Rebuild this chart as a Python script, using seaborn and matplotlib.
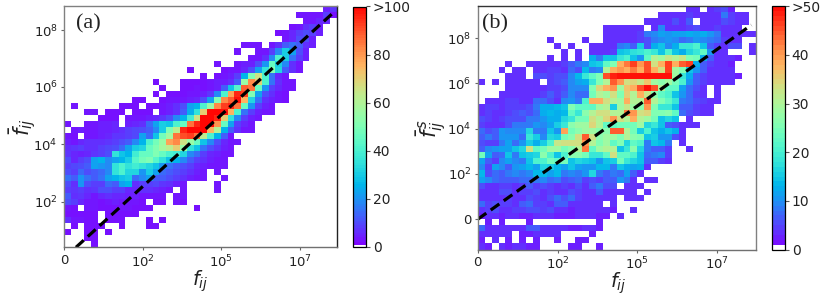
import pandas as pd
import seaborn as sns
import matplotlib.pyplot as plt
from matplotlib.colors import ListedColormap

# Counts, one list per row from the top, short rows end in blanks
counts_a = [
    [0]*38 + [4, 7],
    [0]*34 + [3, 3, 3, 3, 8, 2],
    [0]*35 + [3, 3, 5, 5],
    [0]*33 + [2, 3, 6, 8, 4],
    [0]*31 + [2, 3, 5, 8, 10, 8, 4],
    [0]*32 + [3, 5, 10, 10, 4],
    [0]*26 + [3, 3, 3, 0, 3, 6, 12, 15, 12, 6, 4],
    [0]*25 + [3, 0, 0, 3, 3, 8, 18, 30, 22, 10, 4],
    [0]*27 + [3, 3, 6, 18, 40, 30, 15, 8, 4],
    [0]*22 + [3, 0, 0, 3, 4, 4, 10, 20, 45, 30, 18, 6, 3],
    [0]*18 + [2, 0, 0, 0, 0, 2, 3, 3, 5, 10, 22, 35, 50, 32, 12, 6, 3],
    [0]*20 + [2, 0, 2, 3, 4, 8, 25, 50, 65, 40, 15, 5, 3],
    [0]*13 + [2, 0, 0, 0, 2, 2, 2, 2, 3, 4, 4, 6, 12, 55, 82, 70, 40, 15, 6, 3, 3],
    [0]*14 + [2, 0, 0, 2, 2, 3, 2, 3, 4, 12, 28, 42, 88, 85, 45, 20, 8, 5, 3, 3],
    [0]*13 + [2, 0, 2, 2, 2, 3, 3, 4, 7, 18, 40, 78, 95, 92, 50, 22, 10, 6, 3, 2],
    [0]*10 + [2, 2, 0, 0, 2, 3, 3, 3, 4, 5, 10, 22, 50, 82, 88, 98, 75, 32, 15, 6, 4, 3, 2],
    [0, 3, 0, 0, 0, 0, 0, 0, 2, 2, 2, 0, 2, 2, 3, 4, 6, 10, 22, 25, 40, 55, 82, 92, 95, 85, 45, 20, 8, 4, 3],
    [0, 0, 0, 3, 3, 0, 2, 2, 2, 0, 2, 2, 2, 0, 3, 4, 6, 12, 24, 35, 70, 100, 100, 98, 75, 40, 15, 8, 4, 3, 3],
    [0]*5 + [2, 2, 2, 0, 3, 3, 3, 4, 5, 7, 10, 18, 25, 38, 65, 100, 100, 95, 70, 35, 18, 8, 4, 3],
    [3, 0, 0, 3, 3, 4, 4, 5, 0, 4, 5, 6, 14, 22, 30, 28, 40, 45, 85, 95, 100, 100, 80, 45, 22, 8, 5, 3],
    [0, 3, 4, 3, 3, 4, 4, 5, 6, 8, 9, 10, 12, 18, 30, 50, 62, 95, 100, 100, 100, 75, 60, 25, 12, 6, 3, 3],
    [3, 2, 0, 3, 3, 4, 5, 7, 7, 8, 9, 22, 14, 28, 48, 58, 85, 90, 92, 85, 62, 40, 25, 12, 3],
    [4, 3, 5, 6, 6, 6, 7, 8, 10, 12, 18, 25, 40, 48, 55, 78, 82, 65, 55, 45, 28, 18, 10, 5, 3, 3],
    [6, 7, 8, 6, 6, 8, 9, 10, 14, 22, 30, 32, 45, 50, 58, 62, 70, 55, 35, 28, 15, 10, 7, 4, 3],
    [7, 5, 4, 5, 7, 8, 10, 35, 28, 25, 38, 45, 45, 50, 45, 40, 38, 32, 18, 14, 8, 5, 4, 3, 3],
    [10, 5, 8, 10, 22, 25, 18, 22, 25, 30, 42, 48, 50, 42, 35, 28, 25, 18, 12, 8, 6, 4, 3, 3],
    [8, 9, 10, 12, 22, 20, 18, 35, 40, 35, 38, 35, 32, 28, 20, 15, 12, 10, 8, 5, 4, 3, 3, 3],
    [10, 8, 14, 10, 12, 14, 18, 35, 40, 32, 32, 20, 30, 22, 14, 12, 10, 8, 6, 4, 3, 0, 3],
    [15, 12, 20, 15, 12, 15, 22, 25, 28, 30, 14, 18, 22, 12, 12, 10, 8, 6, 4, 3, 3, 0, 0, 3],
    [10, 6, 20, 10, 8, 8, 14, 12, 22, 25, 6, 8, 8, 9, 7, 6, 4, 3, 0, 0, 0, 0, 3],
    [8, 7, 8, 6, 7, 10, 10, 8, 8, 5, 5, 6, 6, 5, 4, 3, 0, 3, 0, 0, 0, 0, 3],
    [12, 6, 7, 5, 3, 5, 6, 5, 5, 4, 4, 3, 3, 3, 3, 0, 3, 3],
    [10, 8, 5, 3, 3, 2, 3, 4, 3, 3, 3, 2, 0, 2, 2, 0, 3, 2],
    [3, 2, 0, 3, 3, 2, 2, 2, 3, 3, 2, 2, 2, 0, 0, 0, 0, 0, 0, 2],
    [2, 2, 2, 2, 2, 0, 2, 2, 2, 2, 2],
    [6, 3, 3, 2, 2, 0, 2, 2, 2, 0, 0, 0, 2, 0, 2],
    [0, 2, 0, 2, 2, 2, 0, 0, 2, 0, 0, 0, 2, 2],
    [2, 0, 0, 2, 2, 0, 2],
    [0, 0, 0, 2, 2],
    [0, 0, 0, 0, 2],
]

counts_b = [
    [0]*30 + [3, 3, 0, 3, 4, 5, 2],
    [0]*26 + [3, 3, 3, 3, 4, 3, 3, 3, 3, 8, 4, 3, 3],
    [0]*24 + [3, 3, 3, 3, 5, 3, 6, 0, 3, 3, 3, 5, 4, 3, 3],
    [0]*18 + [3, 3, 3, 3, 3, 3, 0, 3, 9, 3, 3, 3, 4, 5, 3, 3, 4, 3, 3, 3],
    [0]*18 + [3, 3, 3, 3, 3, 4, 8, 9, 11, 10, 11, 11, 12, 11, 12, 10, 8, 3, 3, 3, 3, 3],
    [0]*10 + [3, 0, 0, 0, 0, 3, 0, 0, 3, 3, 3, 3, 3, 4, 5, 8, 9, 10, 9, 7, 8, 10, 9, 8, 7, 4, 3, 3],
    [0]*11 + [3, 0, 3, 0, 0, 3, 3, 3, 3, 8, 9, 6, 15, 5, 12, 14, 9, 12, 18, 18, 20, 14, 6, 4, 3, 5, 5, 0, 3],
    [0]*12 + [3, 0, 3, 0, 3, 3, 3, 4, 14, 15, 17, 18, 20, 18, 14, 20, 14, 12, 16, 18, 22, 10, 3, 3, 0, 0, 0, 3],
    [0]*10 + [3, 0, 3, 0, 3, 0, 12, 8, 14, 14, 18, 20, 14, 10, 22, 30, 28, 32, 30, 32, 25, 24, 12, 6, 3, 3, 3, 2],
    [0, 0, 0, 0, 3, 0, 0, 3, 3, 3, 3, 3, 4, 6, 8, 9, 14, 15, 22, 25, 38, 42, 46, 40, 45, 33, 38, 46, 38, 44, 46, 12, 6, 4, 3, 3, 2],
    [0, 0, 0, 3, 0, 3, 3, 0, 3, 3, 4, 4, 3, 7, 5, 13, 8, 9, 30, 38, 40, 38, 42, 38, 45, 38, 33, 46, 28, 25, 14, 10, 6, 3, 3, 3, 3],
    [0, 0, 0, 0, 3, 3, 3, 0, 5, 5, 4, 5, 5, 9, 13, 18, 22, 25, 45, 48, 50, 50, 50, 50, 50, 50, 50, 50, 28, 18, 12, 6, 4, 3, 3, 3, 3, 2],
    [3, 0, 3, 0, 3, 3, 3, 3, 3, 0, 4, 5, 6, 9, 11, 12, 18, 25, 30, 44, 40, 33, 34, 32, 36, 28, 26, 28, 24, 20, 10, 6, 4, 3, 3, 3, 3],
    [0, 0, 0, 0, 3, 3, 3, 3, 3, 3, 4, 4, 5, 9, 9, 9, 25, 34, 38, 40, 28, 36, 38, 45, 50, 45, 30, 22, 22, 11, 7, 5, 3, 0, 3],
    [0, 0, 0, 3, 3, 3, 3, 3, 3, 4, 6, 4, 6, 9, 7, 7, 24, 30, 28, 33, 25, 35, 30, 38, 32, 26, 22, 20, 14, 10, 7, 4, 3, 0, 3],
    [0, 3, 3, 3, 4, 4, 3, 3, 7, 7, 5, 3, 9, 10, 8, 20, 38, 38, 33, 30, 28, 38, 30, 30, 44, 30, 25, 22, 18, 8, 7, 5, 4, 3, 3],
    [3, 4, 4, 3, 4, 4, 4, 5, 8, 12, 12, 13, 14, 25, 22, 22, 22, 28, 30, 15, 28, 32, 28, 26, 40, 25, 18, 18, 14, 6, 6, 4, 3, 3],
    [3, 4, 3, 3, 4, 5, 6, 5, 7, 12, 13, 12, 13, 22, 18, 26, 30, 33, 33, 30, 30, 42, 40, 33, 34, 25, 25, 26, 22, 7, 5, 4, 3, 3],
    [5, 4, 3, 4, 5, 5, 5, 8, 8, 10, 12, 12, 16, 18, 24, 24, 33, 30, 34, 40, 33, 30, 38, 30, 28, 24, 14, 16, 14, 0, 3],
    [4, 3, 3, 3, 5, 8, 8, 8, 10, 9, 11, 15, 18, 26, 28, 28, 34, 30, 22, 22, 24, 24, 24, 28, 16, 18, 14, 6, 5, 3, 3, 3],
    [7, 5, 6, 10, 9, 9, 9, 16, 8, 8, 14, 10, 39, 24, 26, 28, 28, 26, 26, 44, 44, 30, 24, 15, 20, 14, 12, 14, 12, 3],
    [6, 8, 6, 10, 10, 10, 7, 18, 15, 9, 16, 15, 24, 26, 33, 44, 33, 26, 28, 28, 25, 30, 26, 25, 14, 15, 10, 10, 5, 3],
    [5, 4, 4, 8, 11, 7, 10, 15, 12, 15, 20, 32, 33, 33, 33, 40, 30, 25, 28, 22, 25, 16, 22, 20, 8, 14, 13, 8, 0, 3],
    [6, 9, 10, 11, 11, 14, 16, 33, 22, 24, 28, 28, 24, 26, 30, 42, 22, 28, 30, 30, 14, 18, 26, 16, 8, 6, 6, 4, 0, 0, 3],
    [24, 11, 6, 7, 14, 8, 14, 15, 16, 26, 20, 14, 20, 26, 26, 24, 18, 18, 22, 33, 22, 22, 20, 14, 7, 8, 9, 4],
    [11, 6, 4, 9, 11, 9, 8, 14, 20, 20, 24, 22, 24, 14, 16, 15, 14, 10, 14, 15, 24, 18, 16, 14, 6, 6, 4, 3],
    [9, 4, 11, 9, 6, 10, 11, 13, 11, 16, 15, 13, 11, 14, 11, 10, 10, 13, 13, 8, 14, 12, 11, 12, 3],
    [13, 5, 7, 6, 8, 9, 8, 9, 13, 13, 11, 13, 8, 9, 8, 10, 16, 8, 6, 8, 7, 11, 6, 3],
    [11, 9, 7, 6, 6, 6, 7, 7, 8, 9, 7, 8, 5, 6, 7, 4, 5, 4, 6, 6, 10, 8, 3, 0, 3, 3],
    [5, 3, 3, 4, 4, 3, 4, 6, 4, 5, 4, 3, 4, 3, 5, 3, 6, 8, 5, 5, 0, 3, 3, 3],
    [3, 3, 3, 5, 5, 3, 4, 4, 5, 3, 4, 3, 3, 5, 4, 3, 3, 6, 3, 3, 3, 3, 3, 0, 3],
    [3, 3, 3, 3, 4, 3, 3, 5, 4, 3, 5, 7, 5, 7, 4, 3, 3, 3, 3, 3, 0, 3, 3, 3],
    [7, 4, 5, 4, 4, 3, 6, 7, 4, 4, 3, 6, 6, 3, 3, 3, 3, 3, 0, 3],
    [3, 4, 5, 3, 3, 4, 4, 5, 5, 4, 5, 3, 3, 2, 3, 3, 3, 3, 3, 2, 0, 0, 3],
    [2, 3, 3, 2, 3, 3, 2, 2, 3, 3, 3, 2, 2, 2, 3, 3, 3, 2, 2, 0, 3],
    [0, 2, 0, 2, 0, 0, 0, 2] + [0]*9 + [2],
    [7, 3, 3, 3, 3, 3, 3, 6, 6, 3, 3, 3, 3, 2, 2, 3, 3, 2],
    [3, 3, 3, 3, 3, 0, 2, 2, 3, 3, 3, 3, 0, 0, 0, 0, 2],
    [2, 0, 3, 0, 2, 0, 2, 0, 2, 0, 0, 2, 0, 0, 2, 2],
    [3, 2, 0, 3, 2, 3, 3, 2, 2, 0, 0, 0, 0, 2, 2, 0, 0, 2],
]

xticks_a = [0, 11.6, 23.04, 34.6]
yticks_a = [3.94, 13.35, 22.9, 32.45]
ylabels_a = ["$10^{8}$", "$10^{6}$", "$10^{4}$", "$10^{2}$"]
xlabels = ["0", "$10^{2}$", "$10^{5}$", "$10^{7}$"]
line_x_a = [1.76, 39.5]
line_y_a = [40, 1.06]
cticks_a = [0, 20, 40, 60, 80, 100]
clabels_a = ["0", "20", "40", "60", "80", ">100"]

xticks_b = [0, 11.5, 22.9, 34.5]
yticks_b = [5.26, 12.67, 20.18, 27.58, 35.03]
ylabels_b = ["$10^{8}$", "$10^{6}$", "$10^{4}$", "$10^{2}$", "0"]
line_x_b = [0, 39.4]
line_y_b = [35.03, 3.08]
cticks_b = [0, 10, 20, 30, 40, 50]
clabels_b = ["0", "10", "20", "30", "40", ">50"]

W, H = 830, 301


def axes_px(x0, x1, y0, y1):
    return [x0 / W, 1 - y1 / H, (x1 - x0) / W, (y1 - y0) / H]


def counts_map(n):
    # first level stays white so empty cells are blank
    return ListedColormap(["white"] + sns.color_palette("rainbow", n - 1))


def panel(ax, cax, counts, vmax, xt, yt, ylab, cticks, clabels, lx, ly, edge):
    df = pd.DataFrame(counts).reindex(columns=range(40)).fillna(0)
    sns.heatmap(df, ax=ax, cbar_ax=cax, cmap=counts_map(vmax), vmin=0, vmax=vmax,
                xticklabels=False, yticklabels=False)
    ax.plot(lx, ly, color="black", lw=2.3, ls=(0, (3.3, 1.7)))
    ax.set_xticks(xt, xlabels, rotation=0, fontsize=9.5, color="#222222")
    ax.set_yticks(yt, ylab, rotation=0, fontsize=9.5, color="#222222")
    ax.tick_params(length=2.5, width=0.8, color="#666666", pad=2, bottom=True, left=True)
    for side, col in edge.items():
        ax.spines[side].set_visible(True)
        ax.spines[side].set_color(col)
        ax.spines[side].set_linewidth(1.0)
    cbar = ax.collections[0].colorbar
    cbar.set_ticks(cticks, labels=clabels, fontsize=10, color="#222222")
    cbar.ax.tick_params(length=3, width=0.8, color="#555555", pad=2)
    cbar.outline.set_visible(True)
    cbar.outline.set_edgecolor("black")
    cbar.outline.set_linewidth(0.9)


sns.set_theme(style="ticks")
plt.rcParams["font.family"] = ["DejaVu Sans"]

fig = plt.figure(figsize=(W / 100, H / 100), dpi=100)
ax_a = fig.add_axes(axes_px(64, 336.7, 6.3, 247.3))
cax_a = fig.add_axes(axes_px(353.3, 365.7, 6.5, 247))
ax_b = fig.add_axes(axes_px(477.7, 755.5, 6.3, 249.5))
cax_b = fig.add_axes(axes_px(772.3, 784.7, 6.3, 249.5))

panel(ax_a, cax_a, counts_a, 100, xticks_a, yticks_a, ylabels_a, cticks_a, clabels_a,
      line_x_a, line_y_a, {"left": "#808080", "top": "#808080", "right": "#222222", "bottom": "#707070"})
panel(ax_b, cax_b, counts_b, 50, xticks_b, yticks_b, ylabels_b, cticks_b, clabels_b,
      line_x_b, line_y_b, {"left": "#808080", "top": "#333333", "right": "#808080", "bottom": "#707070"})

fig.text(200 / W, 1 - 281 / H, r"$f_{ij}$", fontsize=14, ha="center", va="center", color="#222222")
fig.text(618 / W, 1 - 283 / H, r"$f_{ij}$", fontsize=14, ha="center", va="center", color="#222222")
fig.text(23 / W, 1 - 127 / H, r"$\bar{f}_{ij}$", fontsize=15, rotation=90, ha="center", va="center", color="#222222")
fig.text(431 / W, 1 - 128 / H, r"$\bar{f}^{\,s}_{ij}$", fontsize=15, rotation=90, ha="center", va="center", color="#222222")
fig.text(88 / W, 1 - 24 / H, "(a)", fontsize=16, family="Liberation Serif", ha="center", va="center", color="#222222")
fig.text(495 / W, 1 - 24 / H, "(b)", fontsize=16, family="Liberation Serif", ha="center", va="center", color="#222222")

fig.savefig("out.png", dpi=100)
